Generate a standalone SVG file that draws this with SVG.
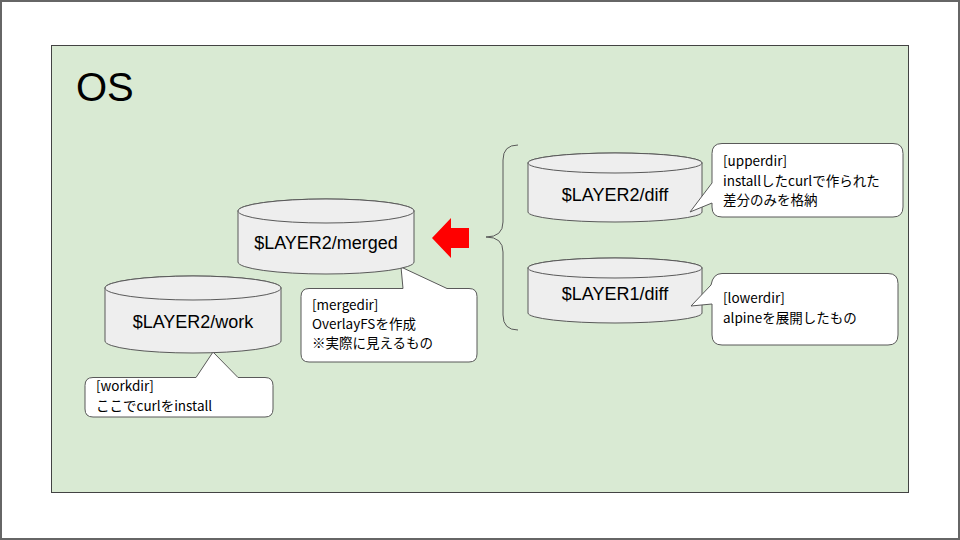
<svg xmlns="http://www.w3.org/2000/svg" width="960" height="540" viewBox="0 0 960 540">
<style>
.cyl{fill:#eeeeee;stroke:#595959;stroke-width:1}
.call{fill:#ffffff;stroke:#595959;stroke-width:1}
.lbl{font-family:"Liberation Sans","Noto Sans CJK JP",sans-serif;font-size:18px;fill:#000;text-anchor:middle;dominant-baseline:central}
.note{font-family:"Noto Sans CJK JP","Noto Sans",sans-serif;font-size:13.5px;fill:#000}
</style>
<rect x="0" y="0" width="960" height="540" fill="#ffffff"/>
<rect x="1" y="1" width="958" height="538" fill="none" stroke="#666666" stroke-width="2"/>
<g id="os">
<rect x="51.5" y="45.5" width="857" height="447" fill="#d9ead3" stroke="#434343" stroke-width="1"/>
<text x="76" y="101" font-family="'Liberation Sans','Noto Sans',sans-serif" font-size="40" fill="#000">OS</text>
</g>
<g id="connectors">
<path d="M518 145 Q503 145 503 160 V222 Q503 237 486 237 Q503 237 503 252 V315 Q503 330 518 330" fill="none" stroke="#595959" stroke-width="1"/>
<path d="M432 238 L451 218 V228 H469 V248 H451 V258 Z" fill="#ff0000"/>
</g>
<g id="mergedir">
<path class="call" d="M309 288.5 H403 L401 267 L447 288.5 H469 Q477 288.5 477 296.5 V354 Q477 362 469 362 H309 Q301 362 301 354 V296.5 Q301 288.5 309 288.5 Z"/>
<text class="note" x="312" y="310">[mergedir]</text>
<text class="note" x="312" y="329">OverlayFSを作成</text>
<text class="note" x="312" y="348">※実際に見えるもの</text>
</g>
<g id="merged">
<path class="cyl" d="M238 211 A88 12 0 0 1 414 211 V262 A88 12 0 0 1 238 262 Z"/>
<ellipse class="cyl" cx="326" cy="211" rx="88" ry="12"/>
<text class="lbl" x="326" y="243">$LAYER2/merged</text>
</g>
<g id="workdir">
<path class="call" d="M93 377.5 H196 L213 352 L238 377.5 H265 Q273 377.5 273 385.5 V409 Q273 417 265 417 H93 Q85 417 85 409 V385.5 Q85 377.5 93 377.5 Z"/>
<text class="note" x="96" y="391">[workdir]</text>
<text class="note" x="96" y="411">ここでcurlをinstall</text>
</g>
<g id="work">
<path class="cyl" d="M105 288 A88 12 0 0 1 281 288 V341 A88 12 0 0 1 105 341 Z"/>
<ellipse class="cyl" cx="193" cy="288" rx="88" ry="12"/>
<text class="lbl" x="193" y="322">$LAYER2/work</text>
</g>
<g id="layer2diff">
<path class="cyl" d="M528 163 A87 10 0 0 1 702 163 V212 A87 10 0 0 1 528 212 Z"/>
<ellipse class="cyl" cx="615" cy="163" rx="87" ry="10"/>
<text class="lbl" x="615" y="195">$LAYER2/diff</text>
</g>
<g id="layer1diff">
<path class="cyl" d="M528 268 A87 10 0 0 1 702 268 V313 A87 10 0 0 1 528 313 Z"/>
<ellipse class="cyl" cx="615" cy="268" rx="87" ry="10"/>
<text class="lbl" x="615" y="294">$LAYER1/diff</text>
</g>
<g id="upperdir">
<path class="call" d="M722 143.5 H893 Q903 143.5 903 153.5 V207 Q903 217 893 217 H722 Q712 217 712 207 V203 L690 212 L712 183 V153.5 Q712 143.5 722 143.5 Z"/>
<text class="note" x="723" y="166">[upperdir]</text>
<text class="note" x="723" y="186">installしたcurlで作られた</text>
<text class="note" x="723" y="205">差分のみを格納</text>
</g>
<g id="lowerdir">
<path class="call" d="M722 273.5 H888 Q898 273.5 898 283.5 V335 Q898 345 888 345 H722 Q712 345 712 335 V304 L691 306 L711 285 Q713 273.5 722 273.5 Z"/>
<text class="note" x="723" y="303">[lowerdir]</text>
<text class="note" x="723" y="323">alpineを展開したもの</text>
</g>
</svg>
